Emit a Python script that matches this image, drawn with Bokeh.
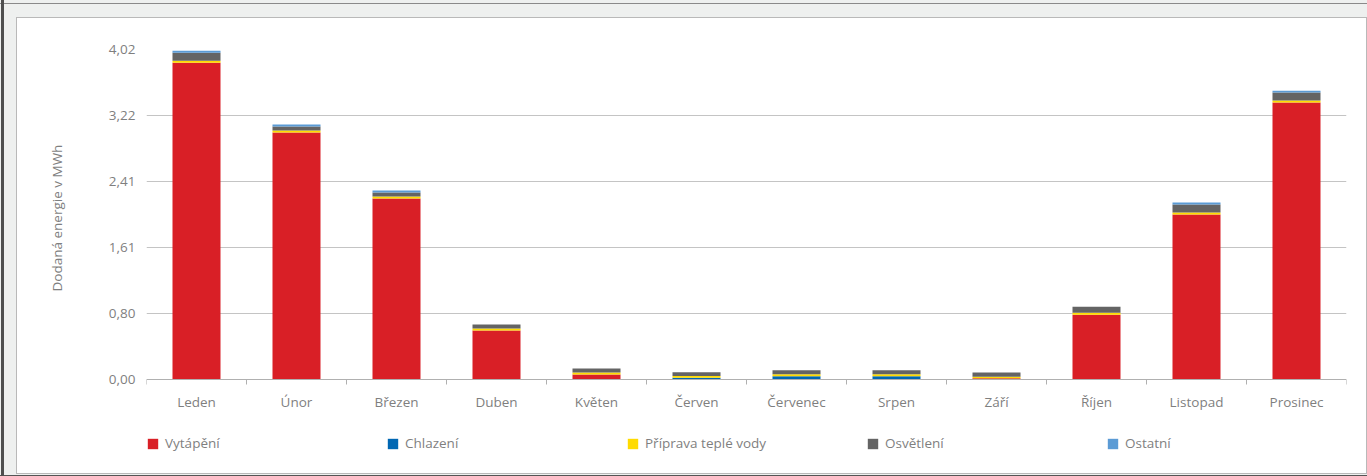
import numpy as np
from bokeh.plotting import figure
from bokeh.models import (ColumnDataSource, Range1d, FixedTicker, Legend, LegendItem, Title)
from bokeh.embed import file_html
from bokeh.resources import INLINE

# ---- data ----
months = ["Leden", "Únor", "Březen", "Duben", "Květen", "Červen",
          "Červenec", "Srpen", "Září", "Říjen", "Listopad", "Prosinec"]
series = ["Vytápění", "Chlazení", "Příprava teplé vody", "Osvětlení", "Ostatní"]
vytapeni = [3.86, 3.01, 2.205, 0.597, 0.06, 0.0, 0.0, 0.0, 0.015, 0.79, 2.01, 3.374]
chlazeni = [0.0, 0.0, 0.0, 0.0, 0.0, 0.02, 0.04, 0.04, 0.0, 0.0, 0.0, 0.0]
priprava_tv = [0.024, 0.024, 0.024, 0.024, 0.024, 0.022, 0.024, 0.024, 0.02, 0.024, 0.024, 0.024]
osvetleni = [0.097, 0.049, 0.049, 0.049, 0.049, 0.045, 0.049, 0.049, 0.049, 0.073, 0.097, 0.097]
ostatni = [0.024, 0.024, 0.024, 0.0, 0.0, 0.0, 0.0, 0.0, 0.0, 0.0, 0.024, 0.024]
y_ticks = [0.0, 0.804, 1.608, 2.412, 3.216, 4.02]
y_tick_labels = ["0,00", "0,80", "1,61", "2,41", "3,22", "4,02"]
y_label = "Dodaná energie v MWh"
colors = ["#D91F26", "#0067B3", "#FFDB00", "#646464", "#5B9BD5"]

FONT = "Open Sans"
TXT = "#7f7f7f"

n = len(months)
xpos = [i + 0.5 for i in range(n)]
keys = ["s0", "s1", "s2", "s3", "s4"]
src = ColumnDataSource(dict(x=xpos, s0=vytapeni, s1=chlazeni, s2=priprava_tv,
                            s3=osvetleni, s4=ostatni))

# layout in pixels
W, H = 1367, 476
F_LEFT, F_TOP, F_RIGHT, F_BOTTOM = 146, 49, 1346, 470
ZERO_PX = 379
ymax = y_ticks[-1]
px_per_unit = (ZERO_PX - F_TOP) / ymax
ymin = -(F_BOTTOM - ZERO_PX) / px_per_unit

p = figure(width=W, height=H, output_backend="svg", toolbar_location=None,
           x_range=Range1d(0, n), y_range=Range1d(ymin, ymax),
           min_border_left=F_LEFT, min_border_right=W - F_RIGHT,
           min_border_top=F_TOP, min_border_bottom=H - F_BOTTOM)
p.border_fill_alpha = 0
p.background_fill_color = "white"
p.outline_line_color = None
p.styles = {
    "background": (
        "linear-gradient(#ffffff,#ffffff) 17px 18px / 1349px 455px no-repeat, "
        "linear-gradient(#b9b9b9,#b9b9b9) 16px 17px / 1351px 457px no-repeat, "
        "linear-gradient(#4f4f4f,#4f4f4f) 1px 0px / 3px 476px no-repeat, "
        "linear-gradient(#8a8a8a,#8a8a8a) 0px 3px / 1367px 1px no-repeat, "
        "linear-gradient(#555555,#555555) 0px 475px / 1367px 1px no-repeat, "
        "#eef0ef"
    )
}

rs = p.vbar_stack(keys, x="x", width=0.48, source=src, color=colors, line_color=None)

# y axis
p.yaxis.ticker = FixedTicker(ticks=y_ticks)
p.yaxis.major_label_overrides = {t: l for t, l in zip(y_ticks, y_tick_labels)}
p.yaxis.axis_line_color = None
p.yaxis.major_tick_line_color = None
p.yaxis.minor_tick_line_color = None
p.yaxis.major_label_text_font = FONT
p.yaxis.major_label_text_font_size = "13.5px"
p.yaxis.major_label_text_color = TXT
p.yaxis.major_label_standoff = 5

ytitle = Title(text=y_label, align="left", offset=179, standoff=79,
               text_font=FONT, text_font_size="13.5px", text_font_style="normal",
               text_color=TXT)
p.add_layout(ytitle, "left")

# x axis, drawn at y = 0 inside the frame
p.xaxis.fixed_location = 0
p.xaxis.ticker = FixedTicker(ticks=xpos, minor_ticks=list(range(n + 1)))
p.xaxis.major_label_overrides = {x: m for x, m in zip(xpos, months)}
p.xaxis.major_tick_line_color = None
p.xaxis.major_tick_out = 0
p.xaxis.major_tick_in = 0
p.xaxis.minor_tick_line_color = "#b0b0b0"
p.xaxis.minor_tick_out = 5
p.xaxis.minor_tick_in = 0
p.xaxis.axis_line_color = "#b0b0b0"
p.xaxis.major_label_text_font = FONT
p.xaxis.major_label_text_font_size = "13.5px"
p.xaxis.major_label_text_color = TXT
p.xaxis.major_label_standoff = 8

p.xgrid.grid_line_color = None
p.ygrid.ticker = FixedTicker(ticks=y_ticks[1:])
p.ygrid.grid_line_color = "#c4c4c4"

items = [LegendItem(label=s, renderers=[r]) for s, r in zip(series, rs)]
legend = Legend(items=items, orientation="horizontal", location=(0, 18),
                glyph_width=13, glyph_height=13, label_standoff=6, label_width=221,
                spacing=0, padding=0, margin=0, border_line_color=None,
                background_fill_alpha=0, label_text_font=FONT,
                label_text_font_size="13.5px", label_text_color=TXT)
p.add_layout(legend, "center")

open("out.html", "w").write(file_html(p, INLINE))
